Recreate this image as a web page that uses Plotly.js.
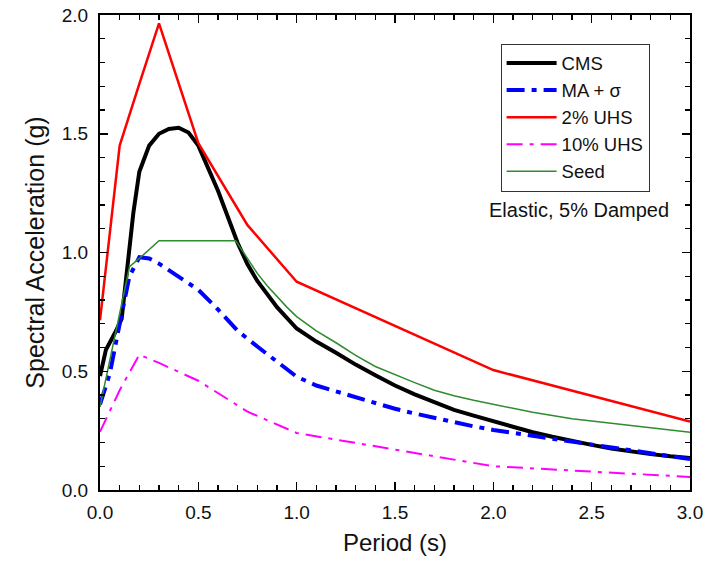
<!DOCTYPE html>
<html>
<head>
<meta charset="utf-8">
<script src="https://cdn.plot.ly/plotly-3.0.1.min.js"></script>
<style>
  html, body { margin: 0; padding: 0; background: #fff; }
  #chart { width: 707px; height: 565px; }
</style>
</head>
<body>
<div id="chart"></div>
<script>
// Response spectra (period in s, spectral acceleration in g)
const periodCMS = [0, 0.03, 0.075, 0.11, 0.13, 0.15, 0.17, 0.2, 0.25, 0.3, 0.35, 0.4, 0.45, 0.5, 0.6, 0.7, 0.75, 0.8, 0.9, 1.0, 1.1, 1.2, 1.3, 1.4, 1.5, 1.6, 1.7, 1.8, 1.9, 2.0, 2.1, 2.2, 2.3, 2.4, 2.5, 2.6, 2.7, 2.8, 2.9, 3.0];
const saCMS     = [0.48, 0.59, 0.66, 0.72, 0.87, 1.03, 1.17, 1.34, 1.45, 1.50, 1.52, 1.525, 1.505, 1.45, 1.26, 1.04, 0.95, 0.88, 0.77, 0.68, 0.625, 0.578, 0.528, 0.483, 0.44, 0.403, 0.368, 0.337, 0.313, 0.29, 0.265, 0.243, 0.224, 0.206, 0.19, 0.175, 0.162, 0.151, 0.142, 0.135];

const periodMA = [0, 0.05, 0.1, 0.15, 0.2, 0.25, 0.3, 0.4, 0.5, 0.6, 0.7, 0.8, 0.9, 1.0, 1.1, 1.2, 1.3, 1.4, 1.5, 1.6, 1.7, 1.8, 1.9, 2.0, 2.2, 2.4, 2.6, 2.8, 3.0];
const saMA     = [0.36, 0.49, 0.70, 0.90, 0.98, 0.975, 0.953, 0.90, 0.843, 0.76, 0.67, 0.604, 0.54, 0.477, 0.44, 0.415, 0.39, 0.365, 0.342, 0.322, 0.303, 0.285, 0.268, 0.253, 0.228, 0.205, 0.178, 0.155, 0.13];

const periodUHS2 = [0, 0.1, 0.2, 0.3, 0.5, 0.75, 1.0, 2.0, 3.0];
const saUHS2     = [0.715, 1.45, 1.71, 1.965, 1.46, 1.115, 0.877, 0.505, 0.288];

const periodUHS10 = [0, 0.1, 0.2, 0.3, 0.5, 0.75, 1.0, 2.0, 3.0];
const saUHS10     = [0.245, 0.42, 0.57, 0.535, 0.46, 0.33, 0.24, 0.10, 0.055];

const periodSeed = [0, 0.15, 0.2, 0.3, 0.69, 0.75, 0.8, 0.85, 0.9, 0.95, 1.0, 1.1, 1.2, 1.3, 1.4, 1.5, 1.6, 1.7, 1.8, 1.9, 2.0, 2.2, 2.4, 2.6, 2.8, 3.0];
const saSeed     = [0.35, 0.94, 0.975, 1.05, 1.05, 0.975, 0.912, 0.86, 0.815, 0.77, 0.73, 0.67, 0.62, 0.567, 0.52, 0.485, 0.452, 0.42, 0.397, 0.378, 0.362, 0.327, 0.30, 0.28, 0.26, 0.243];

const xTickVals = [0, 0.5, 1.0, 1.5, 2.0, 2.5, 3.0];
const xTickText = ['0.0', '0.5', '1.0', '1.5', '2.0', '2.5', '3.0'];
const yTickVals = [0, 0.5, 1.0, 1.5, 2.0];
const yTickText = ['0.0', '0.5', '1.0', '1.5', '2.0'];

const traces = [
  { x: periodCMS, y: saCMS, name: 'CMS', mode: 'lines',
    line: { color: '#000000', width: 4 } },
  { x: periodMA, y: saMA, name: 'MA + σ', mode: 'lines',
    line: { color: '#0000ff', width: 4, dash: '18px,7px,5px,7px' } },
  { x: periodUHS2, y: saUHS2, name: '2% UHS', mode: 'lines',
    line: { color: '#ff0000', width: 2.5 } },
  { x: periodUHS10, y: saUHS10, name: '10% UHS', mode: 'lines',
    line: { color: '#ff00ff', width: 2, dash: '16px,7px,4px,7px' } },
  { x: periodSeed, y: saSeed, name: 'Seed', mode: 'lines',
    line: { color: '#2e8b2e', width: 1.5 } }
];

const axisCommon = {
  showgrid: false, zeroline: false,
  showline: true, linecolor: '#000', linewidth: 2,
  mirror: 'allticks', ticks: 'inside', ticklen: 8, tickwidth: 1.5, tickcolor: '#000',
  tickfont: { family: 'Arial, "Liberation Sans", sans-serif', size: 19, color: '#111' },
  tickmode: 'array',
  minor: { dtick: 0.1, ticks: 'inside', ticklen: 5, tickwidth: 1.2, tickcolor: '#000', showgrid: false }
};

const layout = {
  width: 707, height: 565,
  margin: { l: 100, r: 17, t: 15, b: 75 },
  paper_bgcolor: '#fff', plot_bgcolor: '#fff',
  font: { family: 'Arial, "Liberation Sans", sans-serif', color: '#111' },
  showlegend: true,
  legend: {
    x: 0.679, y: 0.94, xanchor: 'left', yanchor: 'top',
    bgcolor: '#fff', bordercolor: '#333', borderwidth: 1,
    font: { size: 18.5, color: '#111' },
    itemwidth: 50, tracegroupgap: 0
  },
  xaxis: Object.assign({}, axisCommon, {
    range: [0, 3.0], tickvals: xTickVals, ticktext: xTickText,
    ticklabelstandoff: 4,
    title: { text: 'Period (s)', font: { size: 24, color: '#111' }, standoff: 12 }
  }),
  yaxis: Object.assign({}, axisCommon, {
    range: [0, 2.0], tickvals: yTickVals, ticktext: yTickText,
    ticklabelstandoff: 6,
    title: { text: 'Spectral Acceleration (g)', font: { size: 25, color: '#111' }, standoff: 10 }
  }),
  annotations: [{
    text: 'Elastic, 5% Damped', xref: 'paper', yref: 'paper',
    x: 0.8127, y: 0.5895, xanchor: 'center', yanchor: 'middle',
    showarrow: false, font: { size: 20, color: '#111' }
  }]
};

Plotly.newPlot('chart', traces, layout, { displayModeBar: false, staticPlot: true });
</script>
</body>
</html>
